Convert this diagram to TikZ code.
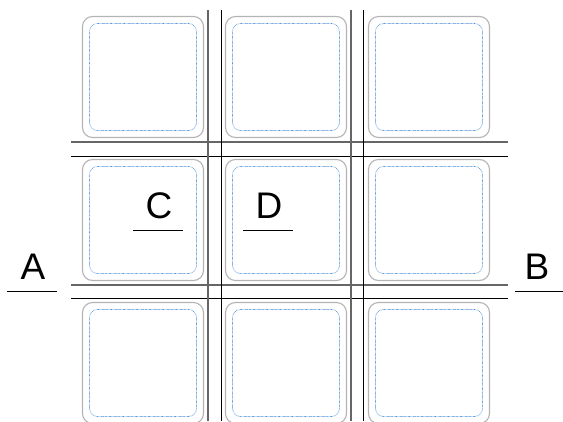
\documentclass[tikz,border=0pt]{standalone}
\usepackage{fontspec}
\setmainfont{Liberation Sans}
\definecolor{cellgray}{HTML}{B4B4B4}
\definecolor{celblue}{HTML}{4A8FD8}
\definecolor{rulegray}{HTML}{666666}
\begin{document}
\begin{tikzpicture}[x=1pt, y=-1pt, line cap=butt,
    cell/.style={draw=cellgray, line width=1.1pt, rounded corners=10pt,
      minimum width=121pt, minimum height=121pt, inner sep=0pt},
    inner/.style={draw=celblue, line width=0.6pt, dash pattern=on 0.6pt off 0.7pt,
      rounded corners=8pt, minimum width=107pt, minimum height=107pt, inner sep=0pt},
    rulea/.style={draw=rulegray, line width=1.4pt},
    ruleb/.style={draw=black, line width=1pt},
    lab/.style={font=\fontsize{37}{40}\selectfont, inner sep=0pt, anchor=base},
    uline/.style={draw=black, line width=1pt}]
  \useasboundingbox (0,0) rectangle (563,421);
  % 九个格子
  \node[cell] (c11) at (143,77) {};
  \node[cell] (c12) at (286,77) {};
  \node[cell] (c13) at (429,77) {};
  \node[cell] (c21) at (143,220) {};
  \node[cell] (c22) at (286,220) {};
  \node[cell] (c23) at (429,220) {};
  \node[cell] (c31) at (143,363) {};
  \node[cell] (c32) at (286,363) {};
  \node[cell] (c33) at (429,363) {};
  % 内部蓝色虚框
  \node[inner] (i11) at (c11) {};
  \node[inner] (i12) at (c12) {};
  \node[inner] (i13) at (c13) {};
  \node[inner] (i21) at (c21) {};
  \node[inner] (i22) at (c22) {};
  \node[inner] (i23) at (c23) {};
  \node[inner] (i31) at (c31) {};
  \node[inner] (i32) at (c32) {};
  \node[inner] (i33) at (c33) {};
  % 横线，两对
  \draw[rulea] (71,142) -- (508,142);
  \draw[ruleb] (71,156) -- (508,156);
  \draw[rulea] (71,285) -- (508,285);
  \draw[ruleb] (71,298) -- (508,298);
  % 竖线，两对
  \draw[rulea] (208,10) -- (208,421);
  \draw[ruleb] (221,10) -- (221,421);
  \draw[rulea] (351,10) -- (351,421);
  \draw[ruleb] (363,10) -- (363,421);
  % 字母及下划线
  \node[lab] (la) at (33,279) {A};
  \draw[uline] (7,291) -- (57,291);
  \node[lab] (lb) at (537,279) {B};
  \draw[uline] (515,291) -- (563,291);
  \node[lab] (lc) at (159,218) {C};
  \draw[uline] (133,230) -- (183,230);
  \node[lab] (ld) at (269,218) {D};
  \draw[uline] (243,230) -- (293,230);
\end{tikzpicture}
\end{document}
